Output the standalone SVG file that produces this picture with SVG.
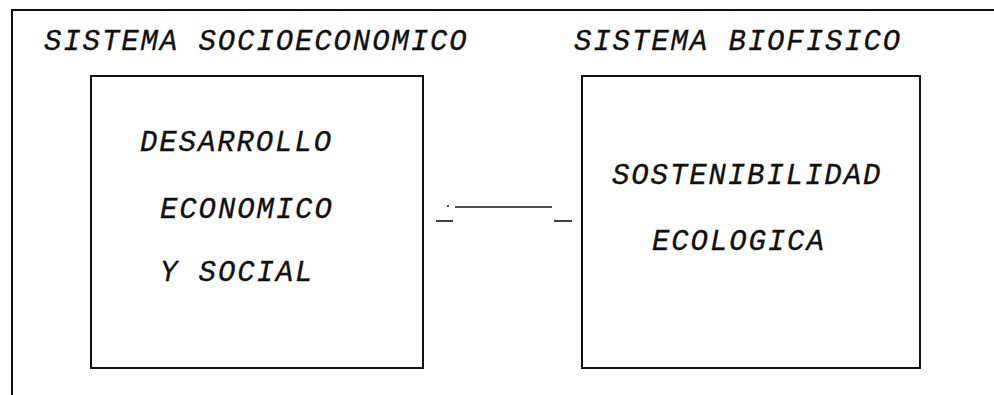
<svg xmlns="http://www.w3.org/2000/svg" width="994" height="395" viewBox="0 0 994 395">
<style>
.t{font-family:"Liberation Mono","Courier New",monospace;font-style:italic;font-size:29px;letter-spacing:1.9px;fill:#111;stroke:#111;stroke-width:0.35}
.b{fill:none;stroke:#111;stroke-width:2}
.c{stroke:#111;stroke-width:1.6;fill:none}
</style>
<rect width="994" height="395" fill="#fff"/>
<g id="frame">
<path class="b" d="M12,395 V10 H994"/>
<text class="t" x="44" y="50">SISTEMA SOCIOECONOMICO</text>
<text class="t" x="574" y="50">SISTEMA BIOFISICO</text>
</g>
<g id="socioeconomico">
<rect class="b" x="91" y="76" width="332" height="292"/>
<text class="t" x="140" y="151">DESARROLLO</text>
<text class="t" x="160" y="218">ECONOMICO</text>
<text class="t" x="160" y="281">Y SOCIAL</text>
</g>
<g id="biofisico">
<rect class="b" x="582" y="76" width="338" height="292"/>
<text class="t" x="612" y="184">SOSTENIBILIDAD</text>
<text class="t" x="652" y="250">ECOLOGICA</text>
</g>
<g id="connectors">
<line class="c" x1="455" y1="207" x2="552" y2="207"/>
<line class="c" x1="447" y1="206" x2="449" y2="206"/>
<line class="c" x1="436" y1="221" x2="453" y2="221"/>
<line class="c" x1="554" y1="221" x2="572" y2="221"/>
</g>
</svg>
